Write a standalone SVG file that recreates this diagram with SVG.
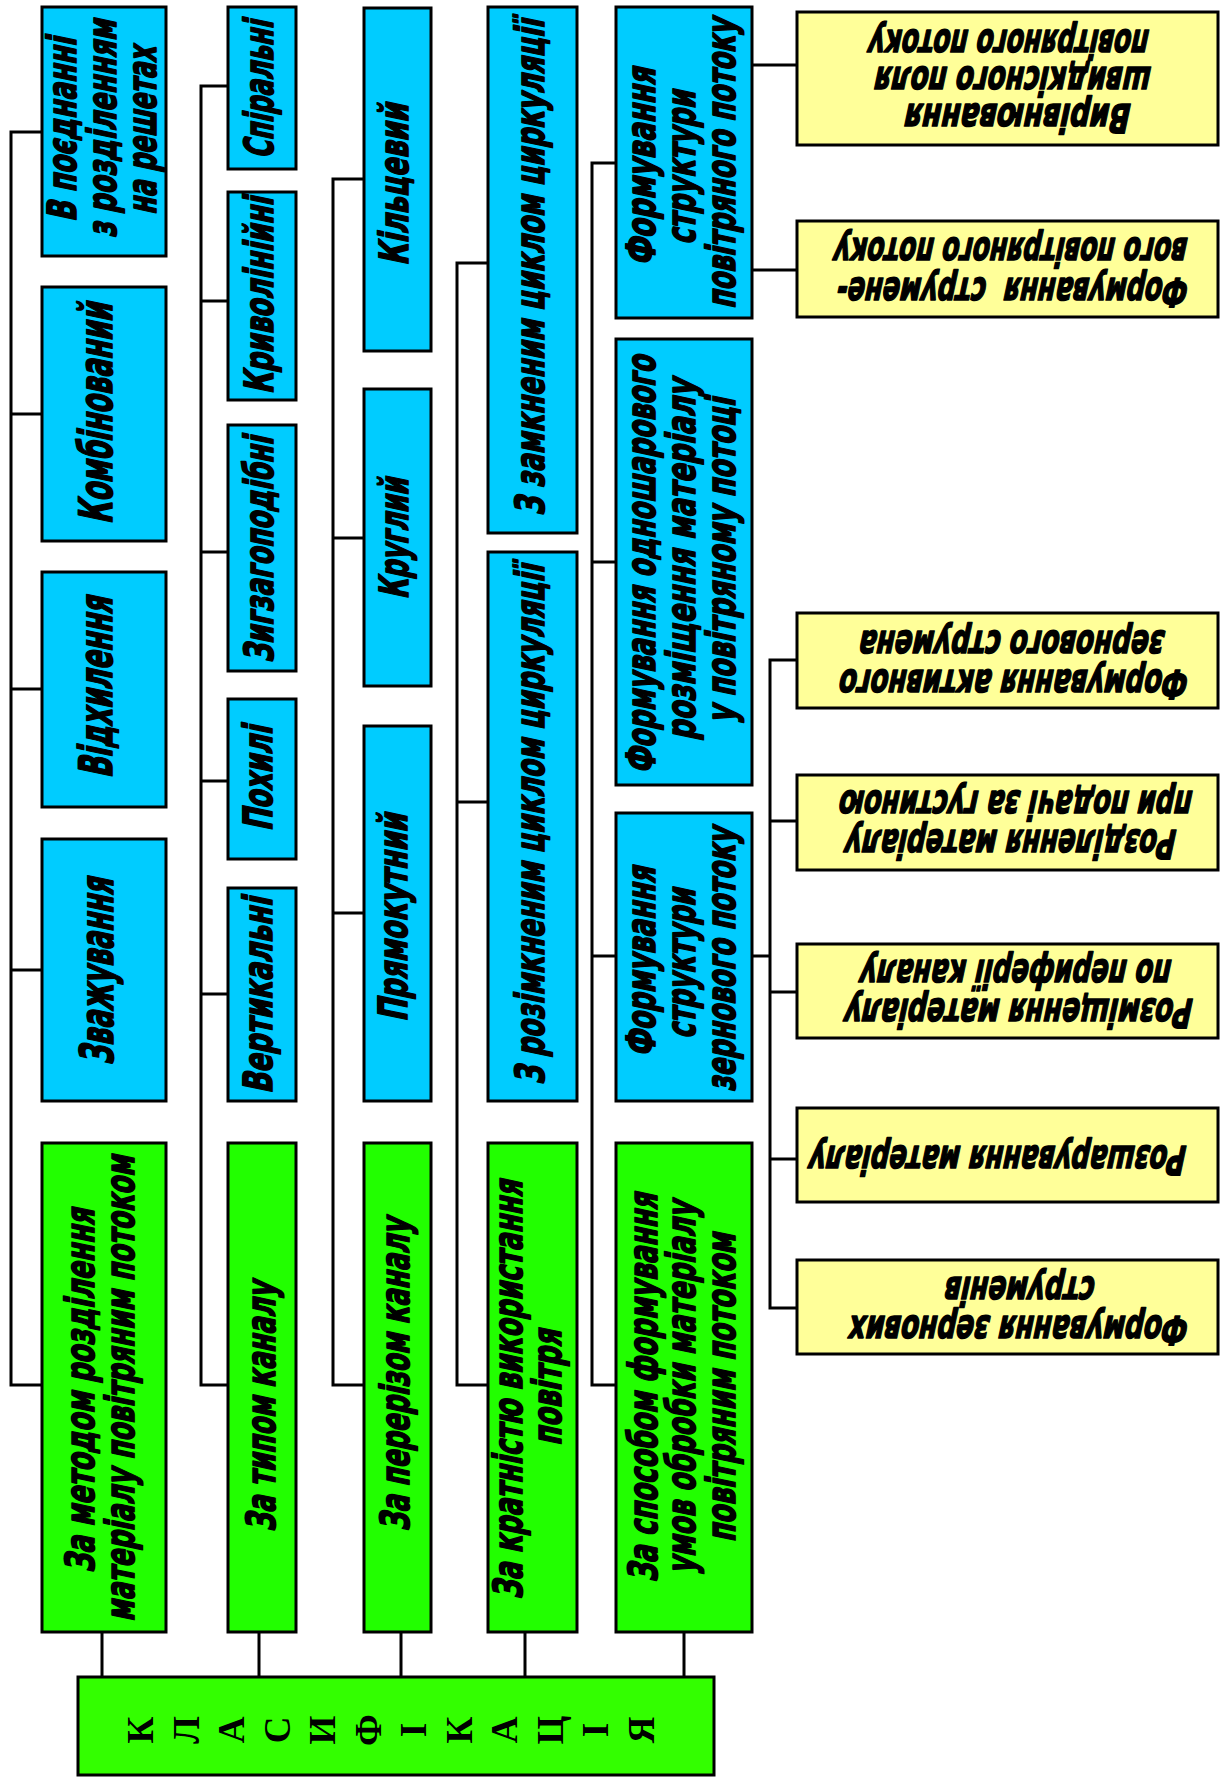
<svg xmlns="http://www.w3.org/2000/svg" width="1226" height="1780" viewBox="0 0 1226 1780">
<style>
.b{fill:#00CCFF;stroke:#000;stroke-width:3}
.g{fill:#22FF00;stroke:#000;stroke-width:3}
.y{fill:#FFFF99;stroke:#000;stroke-width:3}
.m{fill:#33FF00;stroke:#000;stroke-width:3}
.c{fill:none;stroke:#000;stroke-width:3;stroke-linejoin:miter}
.t{font-family:"DejaVu Sans","Liberation Sans",Arial,sans-serif;font-weight:bold;font-size:40px;fill:#000;stroke:#000;stroke-width:1.7;stroke-linejoin:round;text-anchor:middle}
.tb{font-size:46px}
.k{font-family:"Liberation Serif","Times New Roman",serif;font-weight:bold;font-size:37px;fill:#000;text-anchor:middle}
</style>
<rect width="1226" height="1780" fill="#fff"/>
<g id="connectors">
<path class="c" d="M42,132 H11 V1385 H42 M11,414 H42 M11,689 H42 M11,970 H42"/>
<path class="c" d="M228,86 H201 V1385 H228 M201,301 H228 M201,552 H228 M201,781 H228 M201,994 H228"/>
<path class="c" d="M364,179 H333 V1385 H364 M333,538 H364 M333,913 H364"/>
<path class="c" d="M488,263 H457 V1385 H488 M457,802 H488"/>
<path class="c" d="M616,163 H592 V1385 H616 M592,562 H616 M592,956 H616"/>
<path class="c" d="M752,65 H797 M752,270 H797 M752,956 H770 M797,660 H770 V1308 H797 M770,821 H797 M770,992 H797 M770,1159 H797"/>
<path class="c" d="M102,1632 V1677 M259,1632 V1677 M401,1632 V1677 M525,1632 V1677 M684,1632 V1677"/>
</g>
<g id="n1a"><rect class="b" x="42" y="7" width="124" height="249"/>
<text class="t" transform="translate(76,130) rotate(-90) skewX(-12)" textLength="184" lengthAdjust="spacingAndGlyphs">В поєднанні</text>
<text class="t" transform="translate(116,129) rotate(-90) skewX(-12)" textLength="218" lengthAdjust="spacingAndGlyphs">з розділенням</text>
<text class="t" transform="translate(156,131) rotate(-90) skewX(-12)" textLength="168" lengthAdjust="spacingAndGlyphs">на решетах</text></g>
<g id="n1b"><rect class="b" x="42" y="287" width="124" height="254"/>
<text class="t tb" transform="translate(112,414) rotate(-90) skewX(-12)" textLength="221" lengthAdjust="spacingAndGlyphs">Комбінований</text></g>
<g id="n1c"><rect class="b" x="42" y="572" width="124" height="235"/>
<text class="t tb" transform="translate(112,688) rotate(-90) skewX(-12)" textLength="181" lengthAdjust="spacingAndGlyphs">Відхилення</text></g>
<g id="n1d"><rect class="b" x="42" y="839" width="124" height="262"/>
<text class="t tb" transform="translate(113,972) rotate(-90) skewX(-12)" textLength="187" lengthAdjust="spacingAndGlyphs">Зважування</text></g>
<g id="n1g"><rect class="g" x="42" y="1143" width="124" height="489"/>
<text class="t" transform="translate(94,1391) rotate(-90) skewX(-12)" textLength="364" lengthAdjust="spacingAndGlyphs">За методом розділення</text>
<text class="t" transform="translate(134,1389) rotate(-90) skewX(-12)" textLength="466" lengthAdjust="spacingAndGlyphs">матеріалу повітряним потоком</text></g>
<g id="n2a"><rect class="b" x="228" y="7" width="68" height="162"/>
<text class="t" transform="translate(273,90) rotate(-90) skewX(-12)" textLength="138" lengthAdjust="spacingAndGlyphs">Спіральні</text></g>
<g id="n2b"><rect class="b" x="228" y="192" width="68" height="208"/>
<text class="t" transform="translate(273,296) rotate(-90) skewX(-12)" textLength="197" lengthAdjust="spacingAndGlyphs">Криволінійні</text></g>
<g id="n2c"><rect class="b" x="228" y="425" width="68" height="246"/>
<text class="t" transform="translate(273,550) rotate(-90) skewX(-12)" textLength="226" lengthAdjust="spacingAndGlyphs">Зигзагоподібні</text></g>
<g id="n2d"><rect class="b" x="228" y="699" width="68" height="160"/>
<text class="t" transform="translate(272,779) rotate(-90) skewX(-12)" textLength="105" lengthAdjust="spacingAndGlyphs">Похилі</text></g>
<g id="n2e"><rect class="b" x="228" y="888" width="68" height="213"/>
<text class="t" transform="translate(272,996) rotate(-90) skewX(-12)" textLength="196" lengthAdjust="spacingAndGlyphs">Вертикальні</text></g>
<g id="n2g"><rect class="g" x="228" y="1143" width="68" height="489"/>
<text class="t" transform="translate(275,1407) rotate(-90) skewX(-12)" textLength="250" lengthAdjust="spacingAndGlyphs">За типом каналу</text></g>
<g id="n3a"><rect class="b" x="364" y="8" width="67" height="343"/>
<text class="t" transform="translate(408,185) rotate(-90) skewX(-12)" textLength="162" lengthAdjust="spacingAndGlyphs">Кільцевий</text></g>
<g id="n3b"><rect class="b" x="364" y="389" width="67" height="297"/>
<text class="t" transform="translate(408,539) rotate(-90) skewX(-12)" textLength="121" lengthAdjust="spacingAndGlyphs">Круглий</text></g>
<g id="n3c"><rect class="b" x="364" y="726" width="67" height="375"/>
<text class="t" transform="translate(407,918) rotate(-90) skewX(-12)" textLength="208" lengthAdjust="spacingAndGlyphs">Прямокутний</text></g>
<g id="n3g"><rect class="g" x="364" y="1143" width="67" height="489"/>
<text class="t" transform="translate(409,1375) rotate(-90) skewX(-12)" textLength="313" lengthAdjust="spacingAndGlyphs">За перерізом каналу</text></g>
<g id="n4a"><rect class="b" x="488" y="7" width="89" height="526"/>
<text class="t" transform="translate(544,268) rotate(-90) skewX(-12)" textLength="496" lengthAdjust="spacingAndGlyphs">З замкненим циклом циркуляції</text></g>
<g id="n4b"><rect class="b" x="488" y="552" width="89" height="549"/>
<text class="t" transform="translate(544,825) rotate(-90) skewX(-12)" textLength="520" lengthAdjust="spacingAndGlyphs">З розімкненим циклом циркуляції</text></g>
<g id="n4g"><rect class="g" x="488" y="1143" width="89" height="489"/>
<text class="t" transform="translate(522,1390) rotate(-90) skewX(-12)" textLength="419" lengthAdjust="spacingAndGlyphs">За кратністю використання</text>
<text class="t" transform="translate(561,1388) rotate(-90) skewX(-12)" textLength="116" lengthAdjust="spacingAndGlyphs">повітря</text></g>
<g id="n5a"><rect class="b" x="616" y="7" width="136" height="311"/>
<text class="t" transform="translate(655,167) rotate(-90) skewX(-12)" textLength="198" lengthAdjust="spacingAndGlyphs">Формування</text>
<text class="t" transform="translate(695,168) rotate(-90) skewX(-12)" textLength="154" lengthAdjust="spacingAndGlyphs">структури</text>
<text class="t" transform="translate(735,164) rotate(-90) skewX(-12)" textLength="290" lengthAdjust="spacingAndGlyphs">повітряного потоку</text></g>
<g id="n5b"><rect class="b" x="616" y="339" width="136" height="446"/>
<text class="t" transform="translate(655,565) rotate(-90) skewX(-12)" textLength="418" lengthAdjust="spacingAndGlyphs">Формування одношарового</text>
<text class="t" transform="translate(695,560) rotate(-90) skewX(-12)" textLength="361" lengthAdjust="spacingAndGlyphs">розміщення матеріалу</text>
<text class="t" transform="translate(735,561) rotate(-90) skewX(-12)" textLength="325" lengthAdjust="spacingAndGlyphs">у повітряному потоці</text></g>
<g id="n5c"><rect class="b" x="616" y="813" width="136" height="288"/>
<text class="t" transform="translate(655,962) rotate(-90) skewX(-12)" textLength="190" lengthAdjust="spacingAndGlyphs">Формування</text>
<text class="t" transform="translate(695,964) rotate(-90) skewX(-12)" textLength="150" lengthAdjust="spacingAndGlyphs">структури</text>
<text class="t" transform="translate(735,960) rotate(-90) skewX(-12)" textLength="264" lengthAdjust="spacingAndGlyphs">зернового потоку</text></g>
<g id="n5g"><rect class="g" x="616" y="1143" width="136" height="489"/>
<text class="t" transform="translate(657,1388) rotate(-90) skewX(-12)" textLength="389" lengthAdjust="spacingAndGlyphs">За способом формування</text>
<text class="t" transform="translate(695,1388) rotate(-90) skewX(-12)" textLength="373" lengthAdjust="spacingAndGlyphs">умов обробки матеріалу</text>
<text class="t" transform="translate(735,1388) rotate(-90) skewX(-12)" textLength="309" lengthAdjust="spacingAndGlyphs">повітряним потоком</text></g>
<g id="y1"><rect class="y" x="797" y="12" width="421" height="133"/>
<text class="t" transform="translate(1020,104) rotate(180) skewX(-12)" textLength="226" lengthAdjust="spacingAndGlyphs">Вирівнювання</text>
<text class="t" transform="translate(1015,67) rotate(180) skewX(-12)" textLength="276" lengthAdjust="spacingAndGlyphs">швидкісного поля</text>
<text class="t" transform="translate(1011,30) rotate(180) skewX(-12)" textLength="280" lengthAdjust="spacingAndGlyphs">повітряного потоку</text></g>
<g id="y2"><rect class="y" x="797" y="221" width="421" height="96"/>
<text class="t" xml:space="preserve" transform="translate(1015,278) rotate(180) skewX(-12)" textLength="351" lengthAdjust="spacingAndGlyphs">Формування  струмене-</text>
<text class="t" transform="translate(1013,238) rotate(180) skewX(-12)" textLength="353" lengthAdjust="spacingAndGlyphs">вого повітряного потоку</text></g>
<g id="y3"><rect class="y" x="797" y="613" width="421" height="95"/>
<text class="t" transform="translate(1016,670) rotate(180) skewX(-12)" textLength="349" lengthAdjust="spacingAndGlyphs">Формування активного</text>
<text class="t" transform="translate(1014,631) rotate(180) skewX(-12)" textLength="305" lengthAdjust="spacingAndGlyphs">зернового струмена</text></g>
<g id="y4"><rect class="y" x="797" y="775" width="421" height="95"/>
<text class="t" transform="translate(1013,830) rotate(180) skewX(-12)" textLength="331" lengthAdjust="spacingAndGlyphs">Розділення матеріалу</text>
<text class="t" transform="translate(1018,791) rotate(180) skewX(-12)" textLength="353" lengthAdjust="spacingAndGlyphs">при подачі за густиною</text></g>
<g id="y5"><rect class="y" x="797" y="944" width="421" height="94"/>
<text class="t" transform="translate(1021,999) rotate(180) skewX(-12)" textLength="348" lengthAdjust="spacingAndGlyphs">Розміщення матеріалу</text>
<text class="t" transform="translate(1018,960) rotate(180) skewX(-12)" textLength="311" lengthAdjust="spacingAndGlyphs">по периферії каналу</text></g>
<g id="y6"><rect class="y" x="797" y="1108" width="421" height="94"/>
<text class="t" transform="translate(1000,1146) rotate(180) skewX(-12)" textLength="377" lengthAdjust="spacingAndGlyphs">Розшарування матеріалу</text></g>
<g id="y7"><rect class="y" x="797" y="1260" width="421" height="94"/>
<text class="t" transform="translate(1021,1316) rotate(180) skewX(-12)" textLength="339" lengthAdjust="spacingAndGlyphs">Формування зернових</text>
<text class="t" transform="translate(1022,1277) rotate(180) skewX(-12)" textLength="150" lengthAdjust="spacingAndGlyphs">струменів</text></g>
<g id="root"><rect class="m" x="78" y="1677" width="636" height="98"/>
<text class="k" transform="translate(141,1730) rotate(-90)" y="12">К</text>
<text class="k" transform="translate(186.5,1730) rotate(-90)" y="12">Л</text>
<text class="k" transform="translate(232,1730) rotate(-90)" y="12">А</text>
<text class="k" transform="translate(277.5,1730) rotate(-90)" y="12">С</text>
<text class="k" transform="translate(323,1730) rotate(-90)" y="12">И</text>
<text class="k" transform="translate(368.5,1730) rotate(-90)" y="12">Ф</text>
<text class="k" transform="translate(414,1730) rotate(-90)" y="12">І</text>
<text class="k" transform="translate(459.5,1730) rotate(-90)" y="12">К</text>
<text class="k" transform="translate(505,1730) rotate(-90)" y="12">А</text>
<text class="k" transform="translate(550.5,1730) rotate(-90)" y="12">Ц</text>
<text class="k" transform="translate(596,1730) rotate(-90)" y="12">І</text>
<text class="k" transform="translate(641.5,1730) rotate(-90)" y="12">Я</text></g>
</svg>
